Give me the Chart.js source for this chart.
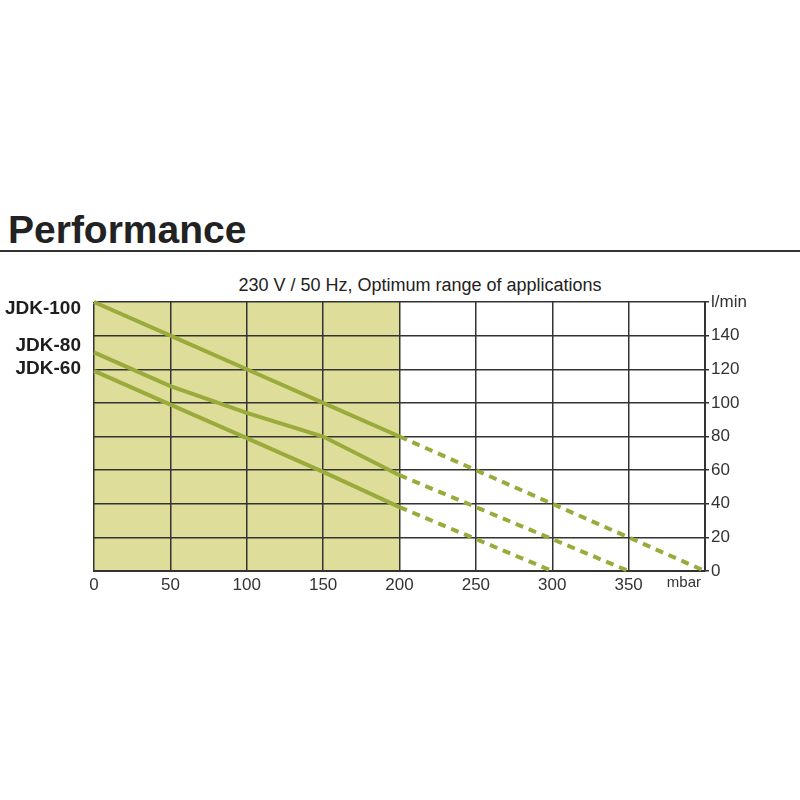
<!DOCTYPE html>
<html>
<head>
<meta charset="utf-8">
<title>Performance</title>
<script src="https://cdn.jsdelivr.net/npm/chart.js@4.4.1/dist/chart.umd.min.js"></script>
<style>
  html, body { margin: 0; padding: 0; background: #fff; }
  #wrap { position: relative; width: 800px; height: 800px; overflow: hidden; }
  #grafico { position: absolute; left: 0; top: 0; }
  .titulo {
    position: absolute; left: 8px; top: 210px; margin: 0;
    font: bold 39px/39px "Liberation Sans", Arial, sans-serif; color: #222;
  }
  .regua { position: absolute; left: 0; top: 250px; width: 800px; height: 2px; background: #333; }
  .sub {
    position: absolute; left: 120px; top: 276px; width: 600px; text-align: center;
    font: 18px/18px "Liberation Sans", Arial, sans-serif; color: #222;
  }
</style>
</head>
<body>
<div id="wrap">
  <h1 class="titulo">Performance</h1>
  <div class="regua"></div>
  <div class="sub">230 V / 50 Hz, Optimum range of applications</div>
  <canvas id="grafico" width="800" height="800"></canvas>
</div>
<script>
// ---------- Dados ----------
const pressure = [0, 50, 100, 150, 200, 250, 300, 350, 400];   // mbar
const jdk100 = [160, 140, 120, 100, 80, 60, 40, 20, 0];          // l/min
const jdk80  = [130, 110, 94, 80, 57, 38, 19, 0];
const jdk60  = [119, 99, 79, 59, 38, 19, 0];
const models = ['JDK-100', 'JDK-80', 'JDK-60'];
const xTickLabels = ['0', '50', '100', '150', '200', '250', '300', '350', ''];
const xUnit = 'mbar';
const yUnit = 'l/min';
const optimumMax = 200;  // fim da faixa ótima (mbar)

const GREEN = '#9aab3c';
const FONT = '"Liberation Sans", Arial, sans-serif';

const toPoints = (vals) => vals.map((v, i) => ({ x: pressure[i], y: v }));

// ---------- Plugins ----------
const faixaOtima = {
  id: 'faixaOtima',
  beforeDraw(chart){
    const { ctx, chartArea, scales } = chart;
    const x0 = scales.x.getPixelForValue(0);
    const x1 = scales.x.getPixelForValue(optimumMax);
    ctx.save();
    ctx.fillStyle = '#dedd9a';
    ctx.fillRect(x0, chartArea.top, x1 - x0, chartArea.bottom - chartArea.top);
    ctx.restore();
  }
};

const rotulos = {
  id: 'rotulos',
  afterDraw(chart){
    const { ctx, scales } = chart;
    const offsets = [7, -7, -2];
    ctx.save();
    ctx.fillStyle = '#1e1e1e';
    ctx.font = 'bold 19px ' + FONT;
    ctx.textAlign = 'right';
    ctx.textBaseline = 'middle';
    chart.data.datasets.forEach((ds, i) => {
      const y = scales.y.getPixelForValue(ds.data[0].y) + offsets[i];
      ctx.fillText(models[i], 81, y);
    });
    // unidade do eixo x
    ctx.font = '15px ' + FONT;
    ctx.fillStyle = '#333';
    ctx.textAlign = 'right';
    ctx.fillText(xUnit, scales.x.right - 4, scales.x.top + 12);
    ctx.restore();
  }
};

// ---------- Gráfico ----------
const dash = (c) => c.p0.parsed.x >= optimumMax ? [8, 6] : undefined;
const serie = (label, vals) => ({
  label,
  data: toPoints(vals),
  borderColor: GREEN,
  borderWidth: 4,
  pointRadius: 0,
  tension: 0,
  clip: 4,
  segment: { borderDash: dash }
});

new Chart(document.getElementById('grafico'), {
  type: 'line',
  data: {
    datasets: [
      serie(models[0], jdk100),
      serie(models[1], jdk80),
      serie(models[2], jdk60)
    ]
  },
  options: {
    responsive: false,
    animation: false,
    layout: { padding: { left: 94, top: 302, right: 0, bottom: 199 } },
    plugins: { legend: { display: false }, tooltip: { enabled: false } },
    scales: {
      x: {
        type: 'linear', min: 0, max: 400,
        afterFit: (s) => { s.height = 30; },
        grid: { color: '#333', lineWidth: 1.5, drawTicks: false },
        border: { color: '#333', width: 2 },
        ticks: {
          stepSize: 50, padding: 4, color: '#333', maxRotation: 0,
          font: { family: FONT, size: 17 },
          callback: (v) => xTickLabels[v / 50]
        }
      },
      y: {
        position: 'right', min: 0, max: 160,
        afterFit: (s) => { s.width = 95; },
        grid: { color: '#333', lineWidth: 1.5, tickLength: 4 },
        border: { color: '#333', width: 2 },
        ticks: {
          stepSize: 20, padding: 2, color: '#333',
          font: { family: FONT, size: 17 },
          callback: (v) => v === 160 ? yUnit : v
        }
      }
    }
  },
  plugins: [faixaOtima, rotulos]
});
</script>
</body>
</html>
